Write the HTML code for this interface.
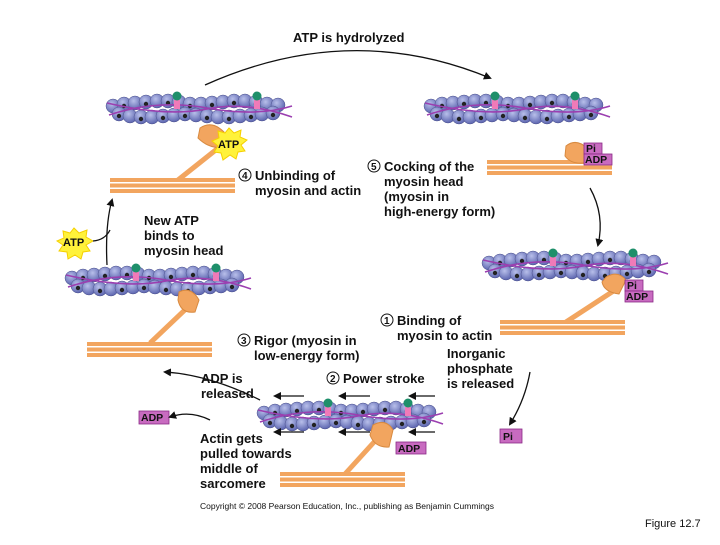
<!DOCTYPE html>
<html><head><meta charset="utf-8"><style>
body{margin:0;background:#fff;width:720px;height:540px;overflow:hidden}
text{font-family:"Liberation Sans",Arial,sans-serif;font-weight:bold;fill:#111}
text.n{font-weight:normal}
</style></head><body>
<svg width="720" height="540" viewBox="0 0 720 540" xmlns="http://www.w3.org/2000/svg">
<defs>
<radialGradient id="bead" cx="40%" cy="35%" r="65%"><stop offset="0" stop-color="#b8bfea"/><stop offset="1" stop-color="#5d66b0"/></radialGradient>
<g id="fil">
 <g fill="url(#bead)" stroke="#4a4f8a" stroke-width="0.5">
  <circle cx="6" cy="11" r="7"/><circle cx="17" cy="9" r="7"/><circle cx="28" cy="8" r="7"/><circle cx="39" cy="7" r="7"/><circle cx="50" cy="6" r="7"/><circle cx="61" cy="6" r="7"/><circle cx="72" cy="7" r="7"/><circle cx="83" cy="9" r="7"/><circle cx="94" cy="9" r="7"/><circle cx="105" cy="8" r="7"/><circle cx="116" cy="7" r="7"/><circle cx="127" cy="6" r="7"/><circle cx="138" cy="6" r="7"/><circle cx="149" cy="7" r="7"/><circle cx="160" cy="9" r="7"/><circle cx="171" cy="10" r="7"/>
  <circle cx="12" cy="19" r="7"/><circle cx="23" cy="21" r="7"/><circle cx="34" cy="22" r="7"/><circle cx="45" cy="22" r="7"/><circle cx="56" cy="21" r="7"/><circle cx="67" cy="20" r="7"/><circle cx="78" cy="19" r="7"/><circle cx="89" cy="20" r="7"/><circle cx="100" cy="21" r="7"/><circle cx="111" cy="22" r="7"/><circle cx="122" cy="22" r="7"/><circle cx="133" cy="21" r="7"/><circle cx="144" cy="20" r="7"/><circle cx="155" cy="19" r="7"/><circle cx="166" cy="18" r="7"/>
 </g>
 <g fill="#222">
  <circle cx="12" cy="21" r="2.2"/><circle cx="34" cy="24" r="2.2"/><circle cx="56" cy="23" r="2.2"/><circle cx="78" cy="21" r="2.2"/><circle cx="100" cy="23" r="2.2"/><circle cx="122" cy="24" r="2.2"/><circle cx="144" cy="22" r="2.2"/><circle cx="166" cy="20" r="2.2"/>
  <circle cx="17" cy="11" r="2.2"/><circle cx="39" cy="9" r="2.2"/><circle cx="61" cy="8" r="2.2"/><circle cx="83" cy="11" r="2.2"/><circle cx="105" cy="10" r="2.2"/><circle cx="127" cy="8" r="2.2"/><circle cx="149" cy="9" r="2.2"/>
 </g>
 <path d="M0 8 Q60 22 100 14 T185 22" stroke="#9b3fb0" stroke-width="1.6" fill="none"/>
 <path d="M2 20 Q50 4 100 13 T185 11" stroke="#9b3fb0" stroke-width="1.6" fill="none"/>
 <rect x="67" y="5" width="6" height="9" fill="#f07ab8"/><circle cx="70" cy="1" r="4.5" fill="#1e8f6a"/>
 <rect x="147" y="5" width="6" height="9" fill="#f07ab8"/><circle cx="150" cy="1" r="4.5" fill="#1e8f6a"/>
</g>
<g id="bar" fill="#f2a55f">
 <rect x="0" y="0" width="125" height="4"/><rect x="0" y="5.5" width="125" height="4"/><rect x="0" y="11" width="125" height="4"/>
</g>
<marker id="ah" markerWidth="8" markerHeight="8" refX="6" refY="4" orient="auto" markerUnits="userSpaceOnUse"><path d="M0 0 L8 4 L0 8 Z" fill="#111"/></marker>
</defs>

<use href="#fil" x="107" y="95"/>
<use href="#fil" x="425" y="95"/>
<use href="#fil" x="483" y="252"/>
<use href="#fil" x="66" y="267"/>
<use href="#fil" x="258" y="402"/>

<use href="#bar" x="110" y="178"/>
<use href="#bar" x="487" y="160"/>
<use href="#bar" x="500" y="320"/>
<use href="#bar" x="87" y="342"/>
<use href="#bar" x="280" y="472"/>

<g stroke="#f2a55f" stroke-width="5" fill="none">
 <path d="M178 180 L222 145"/>
 <path d="M566 322 L615 290"/>
 <path d="M150 343 L190 305"/>
 <path d="M345 474 L385 430"/>
</g>
<g fill="#f2a55f" stroke="#d88a40" stroke-width="1">
 <path d="M200 128 Q212 120 224 132 L226 147 Q210 150 198 138 Z"/>
 <path d="M566 146 Q576 138 587 148 L590 162 Q572 166 565 156 Z"/>
 <path d="M606 277 Q618 270 626 280 L619 294 Q604 292 602 282 Z"/>
 <path d="M179 292 Q191 286 199 300 L195 312 Q181 314 178 300 Z"/>
 <path d="M373 425 Q386 418 393 430 L389 447 Q375 448 370 435 Z"/>
</g>

<g fill="#fff23a" stroke="#f5d000">
 <polygon points="229,128 234,133 241,130 240,137 247,140 241,145 245,151 238,152 236,159 230,155 223,160 221,153 214,152 218,146 212,141 219,138 218,131 225,133"/>
 <polygon points="74,228 79,233 87,230 86,237 93,241 86,245 90,251 83,252 81,259 75,255 68,259 67,252 59,251 63,245 57,241 64,238 63,231 70,233"/>
</g>
<text x="218" y="148" font-size="11">ATP</text>
<text x="63" y="246" font-size="11">ATP</text>

<g fill="#c86bc0" stroke="#8a2a86" stroke-width="0.8">
 <rect x="584" y="143" width="18" height="11"/><rect x="584" y="154" width="28" height="11"/>
 <rect x="625" y="280" width="18" height="11"/><rect x="625" y="291" width="28" height="11"/>
 <rect x="396" y="442" width="30" height="12"/>
 <rect x="139" y="411" width="30" height="13"/>
 <rect x="500" y="429" width="22" height="14"/>
</g>
<g font-size="10.5">
 <text x="586" y="152">Pi</text><text x="585" y="163">ADP</text>
 <text x="627" y="289">Pi</text><text x="626" y="300">ADP</text>
 <text x="398" y="452">ADP</text>
 <text x="141" y="421">ADP</text>
 <text x="503" y="440">Pi</text>
</g>

<g stroke="#111" stroke-width="1.3" fill="none" marker-end="url(#ah)">
 <path d="M205 85 Q350 20 490 78"/>
 <path d="M590 188 Q605 215 598 245"/>
 <path d="M530 372 Q525 400 510 424"/>
 <path d="M260 400 Q210 375 165 372"/>
 <path d="M210 420 Q190 410 170 417"/>
 <path d="M107 265 Q105 225 112 200"/>
 <path d="M304 396 L275 396"/><path d="M370 396 L340 396"/><path d="M435 396 L410 396"/>
 <path d="M304 432 L275 432"/><path d="M370 432 L340 432"/><path d="M435 432 L410 432"/>
</g>
<path d="M93 241 Q105 240 110 230" stroke="#111" stroke-width="1.3" fill="none"/>

<g font-size="13">
 <text x="293" y="42">ATP is hydrolyzed</text>
 <text x="255" y="180">Unbinding of</text><text x="255" y="195">myosin and actin</text>
 <text x="384" y="171">Cocking of the</text><text x="384" y="186">myosin head</text><text x="384" y="201">(myosin in</text><text x="384" y="216">high-energy form)</text>
 <text x="144" y="225">New ATP</text><text x="144" y="240">binds to</text><text x="144" y="255">myosin head</text>
 <text x="397" y="325">Binding of</text><text x="397" y="340">myosin to actin</text>
 <text x="254" y="345">Rigor (myosin in</text><text x="254" y="360">low-energy form)</text>
 <text x="447" y="358">Inorganic</text><text x="447" y="373">phosphate</text><text x="447" y="388">is released</text>
 <text x="201" y="383">ADP is</text><text x="201" y="398">released</text>
 <text x="343" y="383">Power stroke</text>
 <text x="200" y="443">Actin gets</text><text x="200" y="458">pulled towards</text><text x="200" y="473">middle of</text><text x="200" y="488">sarcomere</text>
</g>
<g fill="none" stroke="#111" stroke-width="1">
 <circle cx="245" cy="175" r="6"/><circle cx="374" cy="166" r="6"/><circle cx="387" cy="320" r="6"/><circle cx="244" cy="340" r="6"/><circle cx="333" cy="378" r="6"/>
</g>
<g font-size="10">
 <text x="242" y="179">4</text><text x="371" y="170">5</text><text x="384" y="324">1</text><text x="241" y="344">3</text><text x="330" y="382">2</text>
</g>
<text class="n" x="200" y="509" font-size="8.5" fill="#333">Copyright © 2008 Pearson Education, Inc., publishing as Benjamin Cummings</text>
<text class="n" x="645" y="527" font-size="11">Figure 12.7</text>
</svg>
</body></html>
